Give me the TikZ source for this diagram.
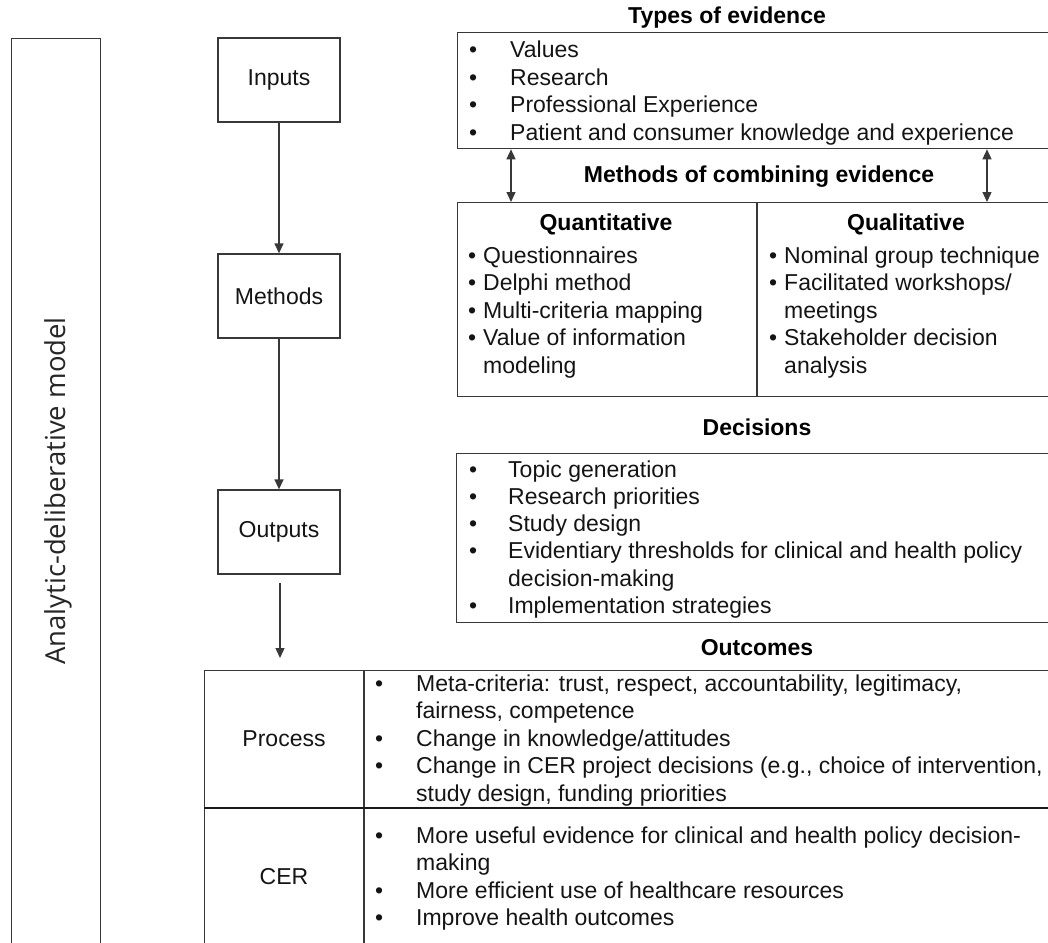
\documentclass[tikz,border=0pt]{standalone}
\usepackage{fontspec}
\setmainfont{Liberation Sans}
\newfontfamily\sidefont{Open Sans}
\usetikzlibrary{arrows.meta}
\begin{document}
\begin{tikzpicture}[x=1pt,y=-1pt,
  ln/.style={draw=black!78, line width=1.3pt},
  txt/.style={font=\fontsize{23}{27}\selectfont, inner sep=0pt, text=black!92},
  hd/.style={font=\fontsize{23}{27}\selectfont\bfseries, inner sep=0pt, anchor=base, text=black},
  li/.style={txt, anchor=base west},
  stagebox/.style={ln, minimum width=122pt, minimum height=84pt, inner sep=0pt, font=\fontsize{23}{27}\selectfont, text=black!92},
  panel/.style={ln, anchor=north west, inner sep=0pt},
  arr/.style={ln, -{Triangle[length=10pt,width=9pt]}},
  darr/.style={ln, {Triangle[length=10pt,width=9pt]}-{Triangle[length=10pt,width=9pt]}},
]
\useasboundingbox (0,0) rectangle (1048,942);
\clip (0,0) rectangle (1048,942);

% left bar
\node[panel, minimum width=89pt, minimum height=940pt] (bar) at (11,38) {};
\node[rotate=90, font=\sidefont\fontsize{27.5}{30}\selectfont, text=black!85, inner sep=0pt] (barlabel) at (58,491) {Analytic-deliberative model};

% stage boxes
\node[stagebox] (inputs) at (279,80) {Inputs};
\node[stagebox] (methods) at (279,296) {Methods};
\node[stagebox] (outputs) at (279,532) {Outputs};
\draw[arr] (inputs) -- (methods);
\draw[arr] (methods) -- (outputs);
\coordinate (oa) at (280,583);
\coordinate (ob) at (280,658);
\draw[arr] (oa) -- (ob);

% Types of evidence
\node[hd] (typeshd) at (727,24) {Types of evidence};
\node[panel, minimum width=700pt, minimum height=116pt] (types) at (457,32) {};
\node[li] (t1) at (469,57.8) {\makebox[41pt][l]{•}Values};
\node[li] (t2) at (469,85.2) {\makebox[41pt][l]{•}Research};
\node[li] (t3) at (469,112.6) {\makebox[41pt][l]{•}Professional Experience};
\node[li] (t4) at (469,140) {\makebox[41pt][l]{•}Patient and consumer knowledge and experience};

% Methods of combining evidence
\node[hd] (combhd) at (759,182) {Methods of combining evidence};
\node[panel, minimum width=700pt, minimum height=194pt] (mbox) at (457,202) {};
\coordinate (al) at (511,0);
\coordinate (ar) at (987,0);
\draw[darr] (types.south -| al) -- (mbox.north -| al);
\draw[darr] (types.south -| ar) -- (mbox.north -| ar);
\coordinate (dv) at (757,0);
\draw[ln] (mbox.north -| dv) -- (mbox.south -| dv);

\node[hd] (quanthd) at (606,230) {Quantitative};
\node[li] (q1) at (468,263) {\makebox[15pt][l]{•}Questionnaires};
\node[li] (q2) at (468,290.5) {\makebox[15pt][l]{•}Delphi method};
\node[li] (q3) at (468,318) {\makebox[15pt][l]{•}Multi-criteria mapping};
\node[li] (q4) at (468,345.5) {\makebox[15pt][l]{•}Value of information};
\node[li] (q5) at (483,373) {modeling};

\node[hd] (qualhd) at (906,230) {Qualitative};
\node[li] (l1) at (769,263) {\makebox[15pt][l]{•}Nominal group technique};
\node[li] (l2) at (769,290.5) {\makebox[15pt][l]{•}Facilitated workshops/};
\node[li] (l3) at (784,318) {meetings};
\node[li] (l4) at (769,345.5) {\makebox[15pt][l]{•}Stakeholder decision};
\node[li] (l5) at (784,373) {analysis};

% Decisions
\node[hd] (dechd) at (757,435) {Decisions};
\node[panel, minimum width=700pt, minimum height=169pt] (dbox) at (456,453) {};
\node[li] (d1) at (469,477) {\makebox[39pt][l]{•}Topic generation};
\node[li] (d2) at (469,504.3) {\makebox[39pt][l]{•}Research priorities};
\node[li] (d3) at (469,531.6) {\makebox[39pt][l]{•}Study design};
\node[li] (d4) at (469,558.9) {\makebox[39pt][l]{•}Evidentiary thresholds for clinical and health policy};
\node[li] (d5) at (508,586.2) {decision-making};
\node[li] (d6) at (469,613.5) {\makebox[39pt][l]{•}Implementation strategies};

% Outcomes
\node[hd] (outhd) at (757,655) {Outcomes};
\node[panel, minimum width=900pt, minimum height=320pt] (otab) at (204,670) {};
\coordinate (cv) at (364,0);
\draw[ln] (otab.north -| cv) -- (otab.south -| cv);
\coordinate (rh) at (0,808);
\draw[ln, line width=2.2pt, draw=black!90] (otab.west |- rh) -- (otab.east |- rh);

\node[txt] (proc) at (284,739) {Process};
\node[li] (p1) at (375,691) {\makebox[41pt][l]{•}Meta-criteria: trust, respect, accountability, legitimacy,};
\node[li] (p2) at (416,718.5) {fairness, competence};
\node[li] (p3) at (375,746) {\makebox[41pt][l]{•}Change in knowledge/attitudes};
\node[li] (p4) at (375,773.5) {\makebox[41pt][l]{•}Change in CER project decisions (e.g., choice of intervention,};
\node[li] (p5) at (416,801) {study design, funding priorities};

\node[txt] (cer) at (284,877) {CER};
\node[li] (c1) at (375,843) {\makebox[41pt][l]{•}More useful evidence for clinical and health policy decision-};
\node[li] (c2) at (416,870.5) {making};
\node[li] (c3) at (375,898) {\makebox[41pt][l]{•}More efficient use of healthcare resources};
\node[li] (c4) at (375,925.5) {\makebox[41pt][l]{•}Improve health outcomes};
\end{tikzpicture}
\end{document}
